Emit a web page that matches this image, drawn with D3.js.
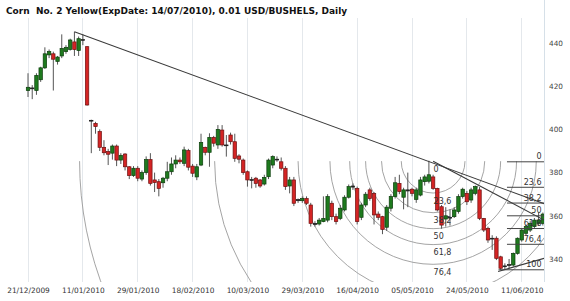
<!DOCTYPE html>
<html><head><meta charset="utf-8">
<script src="https://cdn.jsdelivr.net/npm/d3@7"></script>
<style>
body{margin:0;background:#fff;}
svg{display:block;font-family:"DejaVu Sans",Verdana,sans-serif;}
</style></head>
<body><svg id="c" width="570" height="301"></svg>
<script>
// ---- data (bar index 0 = 21/12/2009) ----
const title = "Corn  No. 2 Yellow(ExpDate: 14/07/2010), 0.01 USD/BUSHELS, Daily";
const tickIndex = [0,13,26,39,52,65,78,91,104,117];
const tickLabels = ["21/12/2009","11/01/2010","29/01/2010","18/02/2010","10/03/2010","29/03/2010","16/04/2010","05/05/2010","24/05/2010","11/06/2010"];
const priceTicks = [340,360,380,400,420,440];
const open  = [418,419.2,418,423,428.5,434.5,435,431.5,434,436,437,440.5,436.5,441.6,438.3,404.2,402.8,399,391.7,389.7,
389,392.3,385.8,388.6,382.7,378.6,382,377,380,386,376.6,375.8,375.3,377.4,380.4,384,385.8,384.3,390.2,383,
378,383.5,391.7,389.4,396.3,392.8,399.7,392.8,397.4,394.3,387.7,385.8,380.4,376.8,377.4,376.6,374.7,378.1,383.5,386.2,
385,382,373.8,376.6,367,367,368,365,356.5,356.2,357.3,358,365.8,359.6,358.8,362.7,368.6,373.8,372.7,359.3,
365,372,370.4,360.8,359.6,354.7,363.5,368.9,375,368.6,371.5,372.3,367.6,369.6,375.8,376,378,372.7,364.2,358.5,
359.3,359.6,362,368.9,370.4,367.3,370.4,372,358.8,354.2,349.6,349.6,341,336.8,337,337.2,342.6,348.8,351.9,353.4,
355,356.5,356.5];
const high  = [426,420.5,426,429,438,437,436,434,444,439,442,445.2,443,444,438.5,404.5,403.5,400,395,391,
393,393,389,389,383,383,383,381,387.5,389,380,377,378,385,387,388,387,392,391,384,
384,398,392,398.2,397,402,402,397.4,398.5,398,388.5,386.5,381,378,378,377,379,386.5,388,387.5,
387,383,378,378,368,369,369,366,357.5,359,369,370,367,361,365,369.5,374.5,375,373.5,366,
371,373,371,362,360,365,370,378,379,373,380,373,373,378,379,385.5,379,373,365,364,
363,364,370,373,371.5,373,374,373.3,359,355,351,350.5,341.5,338,340,343,350,354,356,357.5,
359,361.5,361.5];
const low   = [415,414,416,422,428,433,418,430,433,435,436.5,434,434,439,411,389,398,390,388,383.5,
386,383,384,381,377,378,376,376,379,374,371,369,373,376,379,382,384,383,381,378,
376.5,383,388,382.7,392,391,392,387.4,393,385,384.3,379,373.5,372.7,373,373,374,377,382,385,
381,372,370.4,364.5,366,366,365,355,355,355.5,357,357,358,356,358,362,368,372,356,358,
364,367,356,358,351.5,353,362,368,370,363,364,369,366,369,374,375,372,362,354,355,
355.5,359,361,368,365,366,369.5,358,352.5,347.5,344.2,339.5,335,335.3,335.5,336.5,342,348,351,352.5,
354,355.5,355.5];
const close = [419.5,418.8,425,428.5,435,436,432.5,433.5,437.5,438,441.4,437,442,441.4,411.3,404,401.3,391.7,389.2,388.5,
392.3,385.8,388,382.7,378.6,382,377.4,380,386,375,375.4,372.7,377.4,380.4,384,385.8,385,390.5,382.5,379.7,
382.7,394,389.4,396.3,393.6,400,392.8,392.5,394.3,386.6,386.2,380,376.6,376.4,375,373.8,377.8,385.8,387.4,386,
382,373.5,376.6,365.8,367.5,368,365.8,356.5,356,358,358.8,368.9,359.6,357.3,363.5,368.6,373.5,373.3,357.3,365,
370,368,360.4,359.3,353.7,364,368.9,375.3,371.2,372,372,370.4,372,376.6,378,379,372.7,362.7,355.7,360,
359,362.7,368.9,372.3,366.5,372,373.5,358.8,353.4,348.8,349.4,340.3,335.7,336.5,337.4,342.6,349.6,353.4,355,356.5,
358,358,360.8];
// annotation anchors: [bar index, price]
const trendLong  = [[11,445.2],[122.3,365.6]];
const trendShort = [[96,385.3],[122.3,358]];
const trendLow   = [[111.4,334.2],[122.3,340.3]];
const arcCenter  = [96,385.3];
const arcUnitBars = 32;
const arcLevels  = [0.236,0.382,0.5,0.618,0.764,1,1.618,2.618];
const arcLabelLevels = [0,0.236,0.382,0.5,0.618,0.764];
const arcLabelText = ["0","23,6","38,2","50","61,8","76,4"];
const retrHigh = 385, retrLow = 335, retrStart = 113.5, retrStart100 = 111.5;
const retrLevels = [0,0.236,0.382,0.5,0.618,0.764,1];
const retrText = ["0","23,6","38,2","50","61,8","76,4","100"];

// ---- scales ----
const L=0, T=20, R=544, B=282;
const x = d3.scaleLinear().domain([0,122]).range([28, 28+122*4.22]);
const y = d3.scaleLinear().domain([329.35,450.65]).range([B,T]);
const svg = d3.select("#c");

svg.append("defs").append("clipPath").attr("id","plot")
  .append("rect").attr("x",L).attr("y",T).attr("width",R-L).attr("height",B-T);

svg.append("text").attr("x",6).attr("y",13.5).attr("font-size",9).attr("font-weight","bold")
  .attr("fill","#111").attr("xml:space","preserve").style("white-space","pre").text(title);

// grid
svg.append("g").selectAll("line").data(tickIndex).join("line")
  .attr("x1",d=>x(d)).attr("x2",d=>x(d)).attr("y1",T-2).attr("y2",B)
  .attr("stroke","#e4e8ec").attr("stroke-width",1).attr("shape-rendering","crispEdges");
svg.append("line").attr("x1",R).attr("x2",R).attr("y1",0).attr("y2",B)
  .attr("stroke","#d6e0e8").attr("shape-rendering","crispEdges");

// axes
const ax = svg.append("g").attr("transform",`translate(${R},0)`)
  .call(d3.axisRight(y).tickValues(priceTicks).tickSize(0).tickPadding(5).tickFormat(d3.format("d")));
ax.select(".domain").remove();
ax.selectAll("text").attr("font-size",7.3).attr("fill","#444").attr("font-family","DejaVu Sans");
const bx = svg.append("g").attr("transform",`translate(0,${B})`)
  .call(d3.axisBottom(x).tickValues(tickIndex).tickSize(0).tickPadding(6).tickFormat((d,i)=>tickLabels[i]));
bx.select(".domain").remove();
bx.selectAll("text").attr("font-size",7.4).attr("fill","#333").attr("font-family","DejaVu Sans");

const g = svg.append("g").attr("clip-path","url(#plot)");

// arcs
const cx = x(arcCenter[0]), cy = y(arcCenter[1]);
const unit = x(arcCenter[0]+arcUnitBars)-cx;
g.append("g").selectAll("path").data(arcLevels).join("path")
  .attr("d",d=>{const r=unit*d; return `M${cx-r},${cy} A${r},${r} 0 0 0 ${cx+r},${cy}`;})
  .attr("fill","none").attr("stroke","#9a9a9a").attr("stroke-width",0.9);

// candles
const idx = d3.range(open.length);
const cw = 3.4;
const cg = g.append("g");
cg.selectAll("line.w").data(idx).join("line").attr("class","w")
  .attr("x1",i=>x(i)).attr("x2",i=>x(i)).attr("y1",i=>y(high[i])).attr("y2",i=>y(low[i]))
  .attr("stroke","#555").attr("stroke-width",1);
cg.selectAll("rect").data(idx).join("rect")
  .attr("x",i=>x(i)-cw/2).attr("width",cw)
  .attr("y",i=>y(Math.max(open[i],close[i])))
  .attr("height",i=>Math.max(0.8,Math.abs(y(open[i])-y(close[i]))))
  .attr("fill",i=>Math.abs(open[i]-close[i])<0.6?"#222":(close[i]>open[i]?"#1e7a1e":"#d42424"))
  .attr("stroke",i=>Math.abs(open[i]-close[i])<0.6?"#222":(close[i]>open[i]?"#0c3d0c":"#6e1010"))
  .attr("stroke-width",0.7);

// trend lines
[trendLong,trendShort,trendLow].forEach(t=>{
  g.append("line").attr("x1",x(t[0][0])).attr("y1",y(t[0][1])).attr("x2",x(t[1][0])).attr("y2",y(t[1][1]))
   .attr("stroke","#3a3a3a").attr("stroke-width",1.1);
});

// arc labels
g.append("g").selectAll("text").data(arcLabelLevels).join("text")
  .attr("x",cx+0.5).attr("y",(d)=>cy+unit*d+10.5).attr("font-size",8).attr("fill","#333")
  .text((d,i)=>arcLabelText[i]);

// retracement
const rp = d=>retrHigh-(retrHigh-retrLow)*d;
g.append("g").selectAll("line").data(retrLevels).join("line")
  .attr("x1",d=>x(d===1?retrStart100:retrStart)).attr("x2",R).attr("y1",d=>y(rp(d))).attr("y2",d=>y(rp(d)))
  .attr("stroke","#444").attr("stroke-width",1);
g.append("g").selectAll("text").data(retrLevels).join("text")
  .attr("x",R-2.5).attr("y",d=>y(rp(d))-2.5).attr("text-anchor","end").attr("font-size",8).attr("fill","#333")
  .text((d,i)=>retrText[i]);
</script></body></html>
